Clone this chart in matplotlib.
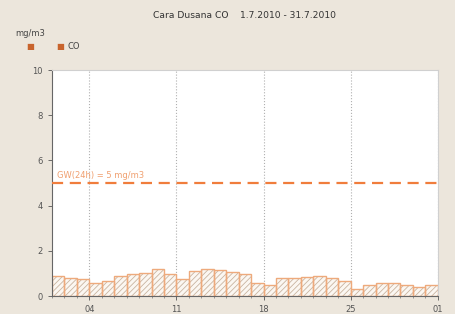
import matplotlib
matplotlib.use("Agg")
from matplotlib import pyplot as plt
import numpy as np

days = list(range(1, 32))
co = [0.89, 0.81, 0.77, 0.59, 0.67, 0.89, 0.96, 1.02, 1.19, 0.96,
      0.77, 1.11, 1.19, 1.16, 1.07, 0.96, 0.59, 0.49, 0.81, 0.79,
      0.86, 0.89, 0.79, 0.67, 0.30, 0.49, 0.58, 0.58, 0.47, 0.40, 0.49]
tick_pos = [3, 10, 17, 24, 31]
tick_labels = ["04", "11", "18", "25", "01"]
limit = 5

bg = "#ece6dc"
orange = "#f07d3c"

plt.rcParams["hatch.linewidth"] = 0.6
fig = plt.figure(figsize=(4.56, 3.14), dpi=100, facecolor=bg)
ax = fig.add_axes([0.114, 0.057, 0.846, 0.72])
ax.set_facecolor("white")

# bars: each day fills its own slot, hatched fill + orange outline
x = np.array(days) - 0.5
ax.bar(x, co, width=1.0, color="#fbf7f2", edgecolor="#c9b4a0",
       hatch="//////", linewidth=0, zorder=2)
ax.bar(x, co, width=1.0, color="none", edgecolor="#eeaa7c",
       linewidth=1.0, zorder=2.5)

# limit line
ax.axhline(limit, color=orange, linestyle=(0, (5, 3)), linewidth=1.6, zorder=3)
ax.text(0.4, limit + 0.12, "GW(24h) = 5 mg/m3", color="#f0a070",
        fontsize=6, va="bottom", ha="left")

ax.set_xlim(0, 31)
ax.set_ylim(0, 10)
ax.set_yticks([0, 2, 4, 6, 8, 10])
ax.set_xticks(tick_pos)
ax.set_xticklabels(tick_labels)
ax.set_xticks(range(0, 32), minor=True)
ax.tick_params(axis="both", labelsize=6, colors="#555555", length=3, width=0.6)
ax.tick_params(axis="x", which="minor", length=1.5, width=0.5, colors="#777777")
ax.xaxis.grid(True, color="#b0b0b0", linestyle=":", linewidth=0.8)
ax.set_axisbelow(True)
for s in ["top", "right"]:
    ax.spines[s].set_color("#d0d0d0")
    ax.spines[s].set_linewidth(0.8)
for s in ["left", "bottom"]:
    ax.spines[s].set_color("#666666")
    ax.spines[s].set_linewidth(0.8)

fig.text(0.537, 0.952, "Cara Dusana CO    1.7.2010 - 31.7.2010", ha="center",
         va="center", fontsize=6.6, color="#333333")
fig.text(0.033, 0.893, "mg/m3", ha="left", va="center", fontsize=6, color="#444444")
fig.text(0.066, 0.853, "■", ha="center", va="center", fontsize=6, color="#c8642d")
fig.text(0.132, 0.853, "■", ha="center", va="center", fontsize=6, color="#c8642d")
fig.text(0.148, 0.853, "CO", ha="left", va="center", fontsize=6, color="#444444")

fig.savefig("out.png", dpi=100, facecolor=bg)
